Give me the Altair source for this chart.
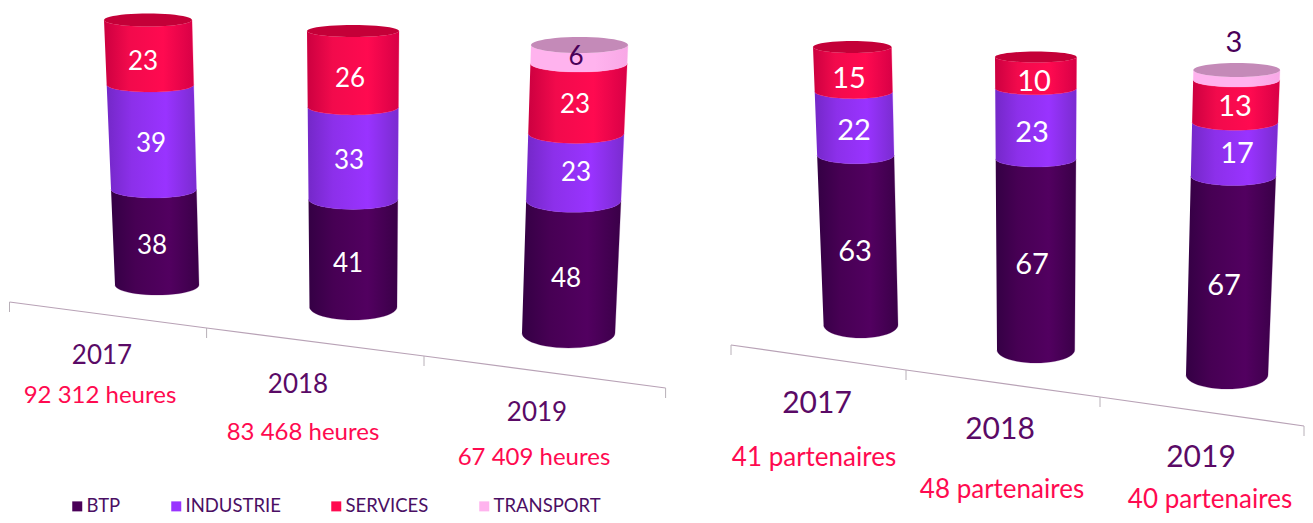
import altair as alt
import numpy as np
import pandas as pd

# ---- values -----------------------------------------------------------------
series = ["BTP", "INDUSTRIE", "SERVICES", "TRANSPORT"]
years = ["2017", "2018", "2019"]
hours_btp = [38, 41, 48]
hours_industrie = [39, 33, 23]
hours_services = [23, 26, 23]
hours_transport = [0, 0, 6]
partners_btp = [63, 67, 67]
partners_industrie = [22, 23, 17]
partners_services = [15, 10, 13]
partners_transport = [0, 0, 3]
hours_totals = ["92 312 heures", "83 468 heures", "67 409 heures"]
partner_totals = ["41 partenaires", "48 partenaires", "40 partenaires"]

# ---- styling ----------------------------------------------------------------
legend_colors = ["#4a0058", "#9933ff", "#ff0a50", "#ffb3ee"]
edge_left = ["#340044", "#7428c8", "#cc0040", "#ffb3ee"]
near_left = ["#470054", "#8c30ea", "#f20a4c", "#ffb3ee"]
mid = ["#520060", "#9933ff", "#ff0a50", "#ffb3ee"]
edge_right = ["#3a0048", "#7a2cd0", "#d80046", "#f8a8e6"]
caps = ["#400050", "#7a28cc", "#c40038", "#c48ab8"]
PLUM = "#5a0a66"
RED = "#ff0a50"
FONT = "Lato"

W, H = 1297, 507

# ---- layout of the tilted drawing, in picture pixels ------------------------
# panel, year index: x left/right at top, x left/right at bottom, y top, y bottom, ry top, ry bottom
geom = {
    (0, 0): (104, 192, 115, 199, 20, 285, 6.5, 10),
    (0, 1): (307, 399, 309.5, 397, 31, 307, 6, 13),
    (0, 2): (531, 628, 522, 615, 45, 333, 8, 15),
    (1, 0): (813, 891.5, 823.6, 898, 47, 325, 6, 13),
    (1, 1): (995, 1076.6, 997, 1074.7, 57, 350, 5.5, 13),
    (1, 2): (1193.4, 1280, 1186, 1268, 70, 375, 7, 14),
}
PERSPECTIVE = -0.08
values = {
    0: [hours_btp, hours_industrie, hours_services, hours_transport],
    1: [partners_btp, partners_industrie, partners_services, partners_transport],
}

rows, cap_rows = [], []
ANG = np.linspace(0, np.pi, 25)


def frame(g, f):
    p = f + PERSPECTIVE * f * (1 - f)
    xl = g[2] + (g[0] - g[2]) * p
    xr = g[3] + (g[1] - g[3]) * p
    yc = g[5] + (g[4] - g[5]) * p
    ry = g[7] + (g[6] - g[7]) * p
    return (xl + xr) / 2, (xr - xl) / 2, yc, ry


for (panel, yi), g in geom.items():
    tot = sum(values[panel][s][yi] for s in range(4))
    cum = 0
    for s, name in enumerate(series):
        v = values[panel][s][yi]
        if not v:
            continue
        f0, f1 = cum / tot, (cum + v) / tot
        cum += v
        seg = f"{panel}-{yi}-{s}"
        xc, rx, yc, ry = frame(g, f0)
        pts = [(xc - rx * np.cos(a), yc + ry * np.sin(a)) for a in ANG]  # lower arc, left to right
        xc, rx, yc, ry = frame(g, f1)
        pts += [(xc + rx * np.cos(a), yc + ry * np.sin(a)) for a in ANG]  # upper edge, right to left
        for i, (x, y) in enumerate(pts):
            rows.append(dict(seg=seg, s=s, i=i, x=x, y=y))
    top = next(s for s in range(3, -1, -1) if values[panel][s][yi])
    xc, rx, yc, ry = frame(g, 1)
    fullang = np.linspace(0, 2 * np.pi, 49)
    for i, a in enumerate(fullang):
        cap_rows.append(dict(seg=f"{panel}-{yi}", s=top, i=i, x=xc + rx * np.cos(a), y=yc + ry * np.sin(a)))

bodies = pd.DataFrame(rows)
cap_df = pd.DataFrame(cap_rows)

xs = alt.Scale(domain=[8, 8 + W], range=[0, W], nice=False, zero=False)
ys = alt.Scale(domain=[8, 8 + H], range=[0, H], nice=False, zero=False)
X = alt.X("x:Q", scale=xs, axis=None)
Y = alt.Y("y:Q", scale=ys, axis=None)

layers = []
for s in range(4):
    grad = alt.Gradient(
        gradient="linear", x1=0, x2=1, y1=0, y2=0,
        stops=[alt.GradientStop(offset=0, color=edge_left[s]),
               alt.GradientStop(offset=0.28, color=near_left[s]),
               alt.GradientStop(offset=0.66, color=mid[s]),
               alt.GradientStop(offset=1, color=edge_right[s])],
    )
    d = bodies[bodies.s == s]
    layers.append(
        alt.Chart(d).mark_line(fill=grad, strokeWidth=0.4, stroke=mid[s], strokeOpacity=0.6)
        .encode(x=X, y=Y, detail="seg:N", order="i:Q")
    )
    c = cap_df[cap_df.s == s]
    if len(c):
        layers.append(
            alt.Chart(c).mark_line(fill=caps[s], strokeWidth=0)
            .encode(x=X, y=Y, detail="seg:N", order="i:Q")
        )

# ---- tilted category axes ---------------------------------------------------
axis_x = [9.5, 206.6, 424, 665.6, 731, 906, 1100, 1304]
axis_y = [302, 328, 356, 388, 345, 370, 397, 426]
axis_panel = [0, 0, 0, 0, 1, 1, 1, 1]
TICK = 10
ax = pd.DataFrame(dict(x=axis_x, y=axis_y, y2=[v + TICK for v in axis_y], panel=axis_panel))
layers.append(alt.Chart(ax).mark_line(color="#b8a2b6", strokeWidth=1.2).encode(x=X, y=Y, detail="panel:N"))
layers.append(alt.Chart(ax).mark_rule(color="#b8b0b8", strokeWidth=1).encode(x=X, y=Y, y2="y2:Q"))

# ---- value labels -----------------------------------------------------------
lab_x = [143, 151, 152, 350, 349, 348, 576, 575, 576, 566,
         849, 854, 855, 1034, 1032, 1032, 1234, 1235, 1237, 1224]
lab_y = [60, 142, 244, 77, 159, 262, 55, 103, 171, 277,
         77, 129, 250, 80, 131, 263, 41, 105, 152, 284]
lab_t = [23, 39, 38, 26, 33, 41, 6, 23, 23, 48,
         15, 22, 63, 10, 23, 67, 3, 13, 17, 67]
lab_c = ["#ffffff"] * 6 + ["#4a0058"] + ["#ffffff"] * 9 + ["#4a0058"] + ["#ffffff"] * 3
lab_s = [26] * 10 + [29] * 10
labs = pd.DataFrame(dict(x=lab_x, y=lab_y, t=lab_t, c=lab_c, fs=lab_s))
layers.append(
    alt.Chart(labs).mark_text(font=FONT, baseline="middle", align="center", dy=2).encode(
        x=X, y=Y, text="t:N", color=alt.Color("c:N", scale=None),
        size=alt.Size("fs:Q", scale=None),
    )
)

# ---- year and total labels --------------------------------------------------
year_x = [102, 298, 537, 817, 1000, 1201]
year_y = [354, 383, 411, 402, 428, 456]
year_s = [26, 26, 26, 30, 30, 30]
yl = pd.DataFrame(dict(x=year_x, y=year_y, t=years * 2, fs=year_s))
layers.append(
    alt.Chart(yl).mark_text(font=FONT, baseline="middle", align="center", color=PLUM, dy=2).encode(
        x=X, y=Y, text="t:N", size=alt.Size("fs:Q", scale=None),
    )
)
tot_x = [100, 303, 534, 814, 1002, 1210]
tot_y = [394, 431, 456, 456, 488, 498]
tot_s = [24, 24, 24, 26, 26, 26]
tl = pd.DataFrame(dict(x=tot_x, y=tot_y, t=hours_totals + partner_totals, fs=tot_s))
layers.append(
    alt.Chart(tl).mark_text(font=FONT, baseline="middle", align="center", color=RED, dy=2).encode(
        x=X, y=Y, text="t:N", size=alt.Size("fs:Q", scale=None),
    )
)

# ---- legend -----------------------------------------------------------------
leg = pd.DataFrame(dict(series=series, x=[100] * 4, y=[100] * 4))
layers.append(
    alt.Chart(leg).mark_point(filled=True, shape="square", opacity=0).encode(
        x=X, y=Y,
        color=alt.Color(
            "series:N",
            scale=alt.Scale(domain=series, range=legend_colors),
            legend=alt.Legend(
                title=None, orient="none", legendX=60, legendY=489, direction="horizontal",
                columns=4, symbolType="square", symbolSize=100, symbolOpacity=1,
                symbolStrokeWidth=0, labelFont=FONT, labelFontSize=18.5, labelColor="#4b0f64",
                columnPadding=46, labelOffset=0, padding=0,
            ),
        ),
    )
)

chart = (
    alt.layer(*layers)
    .properties(width=W, height=H, padding=0, autosize=alt.AutoSizeParams(type="none"), background="white")
    .configure_view(stroke=None)
)
chart.save("out.html", embed_options={"renderer": "svg", "actions": False})
